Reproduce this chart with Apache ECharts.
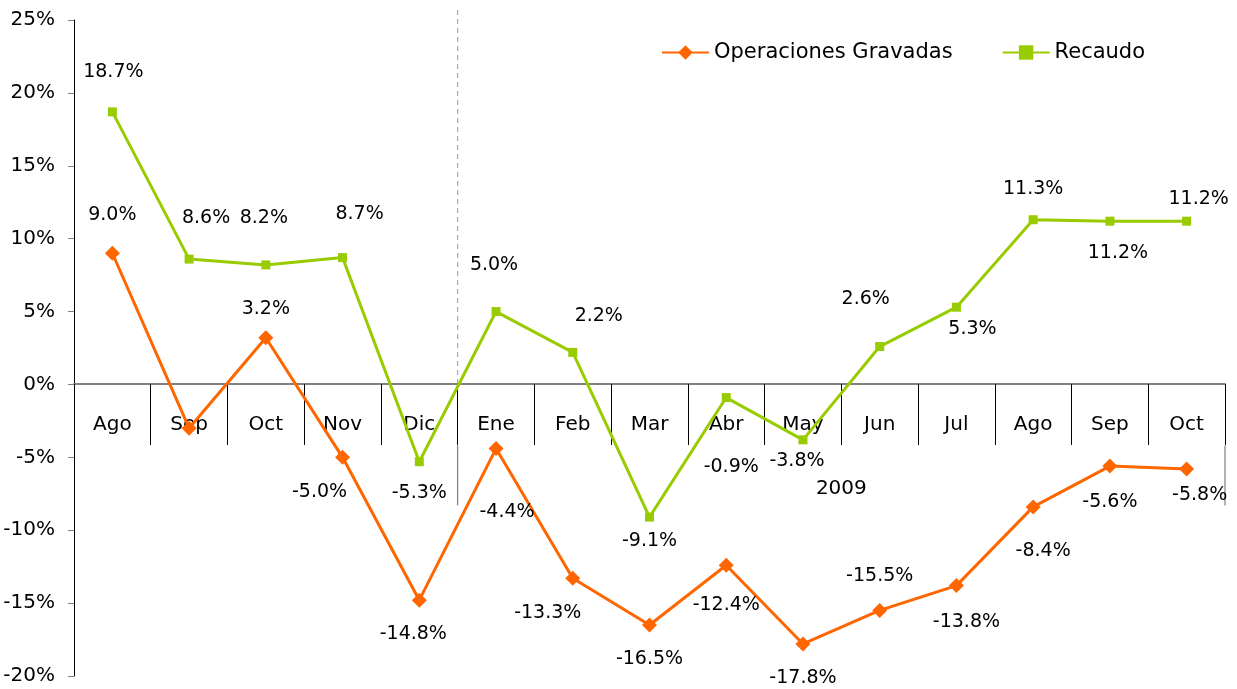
<!DOCTYPE html>
<html>
<head>
<meta charset="utf-8">
<script src="https://cdn.jsdelivr.net/npm/echarts@6/dist/echarts.min.js"></script>
<style>
  html, body { margin: 0; padding: 0; background: #fff; }
  #container { width: 1237px; height: 689px; }
</style>
</head>
<body>
<div id="container"></div>
<script>
var months = ['Ago', 'Sep', 'Oct', 'Nov', 'Dic', 'Ene', 'Feb', 'Mar', 'Abr', 'May', 'Jun', 'Jul', 'Ago', 'Sep', 'Oct'];
var operaciones = [9.0, -3.0, 3.2, -5.0, -14.8, -4.4, -13.3, -16.5, -12.4, -17.8, -15.5, -13.8, -8.4, -5.6, -5.8];
var recaudo = [18.7, 8.6, 8.2, 8.7, -5.3, 5.0, 2.2, -9.1, -0.9, -3.8, 2.6, 5.3, 11.3, 11.2, 11.2];
var yTicks = { min: -20, max: 25, step: 5 };
var yearLabel = '2009';

// where each value label sits, relative to its point (null = no label)
var opLabelOffsets = [[0, -38], null, [0, -29], [-23, 35], [-6, 34], [11, 63], [-25, 35], [0, 34],
    [0, 40], [0, 34], [0, -34], [10, 36], [10, 44], [0, 36], [13, 26]];
var reLabelOffsets = [[1, -40], [17, -41], [-2, -47], [17, -44], [0, 31], [-2, -46], [26, -36], [0, 24],
    [5, 69], [-6, 21], [-14, -47], [16, 22], [0, -31], [8, 32], [12, -22]];

var FONT = 'DejaVu Sans';
var dom = document.getElementById('container');
var myChart = echarts.init(dom, null, { renderer: 'canvas' });

var gridBox = { left: 74, right: 12, top: 20, bottom: 13 };
var plotH = 689 - gridBox.top - gridBox.bottom;
// the category axis sits on the 0% line
var zeroOffset = -Math.round(plotH * (0 - yTicks.min) / (yTicks.max - yTicks.min));

function buildData(values, offsets) {
    return values.map(function (v, i) {
        var off = offsets[i];
        return {
            value: v,
            label: off ? { show: true, position: 'inside', offset: off } : { show: false }
        };
    });
}

var labelStyle = {
    color: '#000',
    fontFamily: FONT,
    fontSize: 19,
    formatter: function (p) { return p.value.toFixed(1) + '%'; }
};

var option = {
    animation: false,
    backgroundColor: '#fff',
    textStyle: { fontFamily: FONT },
    legend: {
        left: 656,
        top: 37,
        itemWidth: 47,
        itemHeight: 18,
        itemGap: 49,
        textStyle: { fontFamily: FONT, fontSize: 21, color: '#000' },
        data: ['Operaciones Gravadas', 'Recaudo']
    },
    grid: {
        left: gridBox.left,
        right: gridBox.right,
        top: gridBox.top,
        bottom: gridBox.bottom,
        containLabel: false,
        outerBoundsMode: 'none'
    },
    xAxis: {
        type: 'category',
        data: months,
        position: 'bottom',
        offset: zeroOffset,
        boundaryGap: true,
        axisLine: { onZero: false, lineStyle: { color: '#808080', width: 2 } },
        axisTick: { show: true, interval: 0, length: 61, lineStyle: { color: '#000', width: 1 } },
        axisLabel: {
            show: true, interval: 0, margin: 31, hideOverlap: false,
            showMinLabel: true, showMaxLabel: true,
            color: '#000', fontFamily: FONT, fontSize: 20
        },
        splitLine: { show: false }
    },
    yAxis: {
        type: 'value',
        min: yTicks.min,
        max: yTicks.max,
        interval: yTicks.step,
        axisLine: { show: true, lineStyle: { color: '#000', width: 1 } },
        axisTick: { show: true, length: 6, lineStyle: { color: '#808080' } },
        axisLabel: { margin: 19, color: '#000', fontFamily: FONT, fontSize: 20, formatter: '{value}%' },
        splitLine: { show: false }
    },
    series: [{
        name: 'Operaciones Gravadas',
        type: 'line',
        data: buildData(operaciones, opLabelOffsets),
        symbol: 'diamond',
        symbolSize: 15,
        itemStyle: { color: '#FF6600' },
        lineStyle: { color: '#FF6600', width: 3 },
        label: labelStyle,
        z: 3
    }, {
        name: 'Recaudo',
        type: 'line',
        data: buildData(recaudo, reLabelOffsets),
        symbol: 'rect',
        symbolSize: 9,
        itemStyle: { color: '#99CC00' },
        lineStyle: { color: '#99CC00', width: 3 },
        label: labelStyle,
        z: 2
    }]
};

myChart.setOption(option);

// year divider, right edge line and the year caption (Excel-style grouped axis)
function px(idx, val) {
    return myChart.convertToPixel({ gridIndex: 0 }, [idx, val]);
}
var half = (px(1, 0)[0] - px(0, 0)[0]) / 2;
var yTop = px(0, yTicks.max)[1];
var yZero = px(0, 0)[1];
var xDiv = px(5, 0)[0] - half;
var xEnd = px(months.length - 1, 0)[0] + half;
var groupBottom = yZero + 121;

myChart.setOption({
    graphic: [{
        type: 'line',
        shape: { x1: xDiv, y1: yTop - 10, x2: xDiv, y2: yZero },
        style: { stroke: '#999', lineWidth: 1, lineDash: [5, 4] },
        silent: true
    }, {
        type: 'line',
        shape: { x1: xDiv, y1: yZero + 61, x2: xDiv, y2: groupBottom },
        style: { stroke: '#666', lineWidth: 1 },
        silent: true
    }, {
        type: 'line',
        shape: { x1: xEnd, y1: yZero + 61, x2: xEnd, y2: groupBottom },
        style: { stroke: '#666', lineWidth: 1 },
        silent: true
    }, {
        type: 'text',
        x: (xDiv + xEnd) / 2,
        y: yZero + 104,
        style: {
            text: yearLabel,
            fill: '#000',
            font: '20px "' + FONT + '"',
            align: 'center',
            verticalAlign: 'middle'
        },
        silent: true
    }]
});
</script>
</body>
</html>
